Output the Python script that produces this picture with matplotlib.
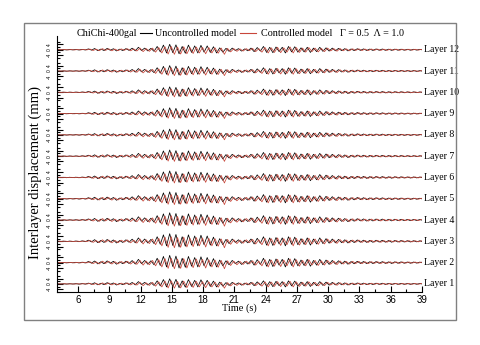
import numpy as np
import matplotlib
matplotlib.use('Agg')
import matplotlib.pyplot as plt
from matplotlib.patches import Rectangle

# signed peak values of the response, one every 0.3 s starting at 4 s
unc_peaks = [0.02,-0.03,0.02,-0.04,0.03,-0.03,0.04,-0.05,0.06,-0.05,
             0.15,-0.08,0.22,-0.18,0.12,-0.15,0.24,-0.1,0.18,-0.22,
             0.1,-0.15,0.2,-0.12,0.28,-0.2,0.45,-0.15,0.3,-0.22,
             0.25,-0.3,0.6,-0.4,0.85,-0.6,1.0,-0.55,0.9,-0.75,
             0.6,-0.65,0.85,-0.5,0.7,-0.6,0.8,-0.45,0.7,-0.5,
             0.55,-0.6,0.35,-0.45,0.25,-0.3,0.3,-0.15,0.2,-0.25,
             0.15,-0.2,0.3,-0.35,0.4,-0.25,0.6,-0.5,0.45,-0.55,
             0.5,-0.35,0.45,-0.6,0.6,-0.4,0.55,-0.45,0.35,-0.4,
             0.45,-0.5,0.3,-0.35,0.45,-0.3,0.35,-0.25,0.3,-0.2,
             0.25,-0.18,0.2,-0.22,0.14,-0.16,0.18,-0.12,0.15,-0.14,
             0.12,-0.13,0.14,-0.1,0.13,-0.11,0.1,-0.12,0.11,-0.09,
             0.1,-0.09,0.08,-0.09,0.08,-0.07,0.07,-0.06]
ctl_peaks = [0.02,-0.02,0.03,-0.03,0.02,-0.04,0.03,-0.04,0.05,-0.04,
             0.12,-0.14,0.1,-0.18,0.2,-0.12,0.18,-0.2,0.12,-0.18,
             0.15,-0.1,0.18,-0.2,0.15,-0.24,0.3,-0.35,0.2,-0.3,
             0.3,-0.45,0.4,-0.6,0.55,-0.8,0.6,-0.85,0.5,-0.8,
             0.55,-0.75,0.4,-0.7,0.5,-0.6,0.45,-0.75,0.4,-0.6,
             0.35,-0.65,0.3,-0.85,0.25,-0.4,0.2,-0.3,0.15,-0.25,
             0.2,-0.18,0.25,-0.35,0.2,-0.45,0.4,-0.6,0.35,-0.5,
             0.45,-0.55,0.35,-0.45,0.5,-0.6,0.4,-0.5,0.3,-0.45,
             0.4,-0.35,0.3,-0.4,0.25,-0.35,0.3,-0.22,0.2,-0.28,
             0.22,-0.2,0.16,-0.2,0.17,-0.13,0.16,-0.15,0.12,-0.15,
             0.13,-0.1,0.12,-0.13,0.1,-0.12,0.11,-0.09,0.1,-0.11,
             0.09,-0.08,0.09,-0.08,0.08,-0.07,0.07,-0.07]
layer_scale = [0.7, 1.0, 1.05, 1.0, 0.95, 0.9, 0.85, 0.8, 0.8, 0.75, 0.75, 0.75]
layer_names = ['Layer %d' % k for k in range(1, 13)]
xticks = [6, 9, 12, 15, 18, 21, 24, 27, 30, 33, 36, 39]

t_unc = 4.0 + 0.3 * np.arange(len(unc_peaks))
t_ctl = 4.15 + 0.3 * np.arange(len(ctl_peaks))
amp = 0.34
red = '#c8463a'

fig = plt.figure(figsize=(4.8, 3.45), dpi=100)
fig.patches.append(Rectangle((0.05, 0.072), 0.9, 0.861, transform=fig.transFigure,
                             fill=False, ec='#808080', lw=1.0))
ax = fig.add_axes([0.119, 0.154, 0.760, 0.742])

for k in range(12):
    base = k + 1
    s = layer_scale[k]
    ax.plot(t_unc, base + amp * s * np.array(unc_peaks), color='k', lw=0.55)
    ax.plot(t_ctl, base + amp * s * np.array(ctl_peaks), color=red, lw=0.55)
    ax.text(39.2, base, layer_names[k], fontsize=7, family='Liberation Serif',
            va='center', ha='left')
    for off, lab in [(-0.25, '-4'), (0.0, '0'), (0.25, '4')]:
        ax.text(3.25, base + off, lab, fontsize=3.5, rotation=90,
                ha='center', va='center', family='Liberation Sans')

ax.set_xlim(4, 39)
ax.set_ylim(0.82, 12.65)
ax.set_xticks(xticks)
ax.set_xticks(np.arange(7.5, 39, 3), minor=True)
ax.set_xticklabels([str(v) for v in xticks], fontsize=7, family='Liberation Sans')
maj = []
mnr = []
for k in range(12):
    maj += [k + 1 - 0.25, k + 1, k + 1 + 0.25]
    mnr += [k + 1 - 0.375, k + 1 - 0.125, k + 1 + 0.125, k + 1 + 0.375]
ax.set_yticks(maj)
ax.set_yticklabels([])
ax.set_yticks(mnr, minor=True)
ax.tick_params(axis='x', which='major', direction='in', length=4, width=0.8, pad=2)
ax.tick_params(axis='x', which='minor', direction='in', length=2, width=0.8)
ax.tick_params(axis='y', which='major', direction='in', length=4, width=0.8)
ax.tick_params(axis='y', which='minor', direction='in', length=2.5, width=0.8)
ax.spines['top'].set_visible(False)
ax.spines['right'].set_visible(False)
ax.spines['left'].set_linewidth(0.8)
ax.spines['bottom'].set_linewidth(0.8)

ax.set_xlabel('Time (s)', fontsize=7.5, family='Liberation Serif', labelpad=-1)
fig.text(0.073, 0.5, 'Interlayer displacement (mm)', rotation=90, fontsize=10.5,
         family='Liberation Serif', ha='center', va='center')

# legend line along the top
ly = 1 - 33 / 345.
fig.text(77 / 480., ly, 'ChiChi-400gal', fontsize=7.3, family='Liberation Serif', va='center')
fig.add_artist(plt.Line2D([140 / 480., 152 / 480.], [ly, ly], color='k', lw=0.8))
fig.text(155 / 480., ly, 'Uncontrolled model', fontsize=7.3, family='Liberation Serif', va='center')
fig.add_artist(plt.Line2D([240 / 480., 256 / 480.], [ly, ly], color=red, lw=0.8))
fig.text(261 / 480., ly, 'Controlled model', fontsize=7.3, family='Liberation Serif', va='center')
fig.text(340 / 480., ly, '\u0393 = 0.5  \u039b = 1.0', fontsize=7.3, family='Liberation Serif', va='center')

plt.savefig('out.png', dpi=100)
